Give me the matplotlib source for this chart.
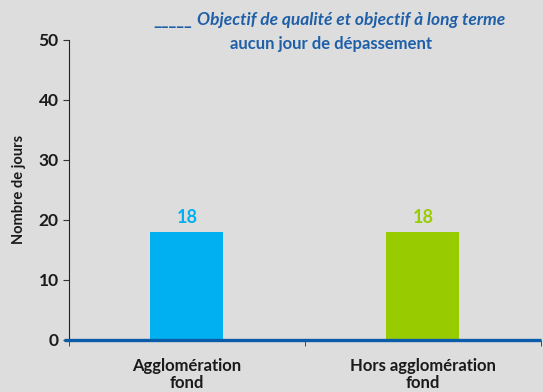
import matplotlib.pyplot as plt

categories = ['Agglomération\nfond', 'Hors agglomération\nfond']
jours = [18, 18]
couleurs = ['#00B0F0', '#99CC00']
objectif = 0

plt.rcParams['font.family'] = ['Lato', 'DejaVu Sans']

fig = plt.figure(figsize=(5.43, 3.92), dpi=100, facecolor='#DDDDDD')
ax = fig.add_axes([0.127, 0.133, 0.869, 0.765])
ax.set_facecolor('#DDDDDD')

x = range(len(categories))
ax.bar(x, jours, width=0.31, color=couleurs, zorder=2)
for xi, v, c in zip(x, jours, couleurs):
    ax.text(xi, v + 1.0, str(v), ha='center', va='bottom',
            fontsize=13, fontweight='bold', color=c)

# objective line (0 days)
ax.plot([-0.52, 1.5], [objectif, objectif], color='#0B5CA8', lw=2.4,
        clip_on=False, zorder=3, solid_capstyle='butt')

ax.set_xlim(-0.5, 1.5)
ax.set_ylim(0, 50)
ax.set_yticks(range(0, 51, 10))
ax.set_xticks(list(x))
ax.set_xticklabels(categories, fontsize=12, fontweight='bold', color='#1A1A1A',
                   linespacing=1.05)
ax.tick_params(axis='x', which='major', length=0, pad=13)
ax.set_xticks([-0.5, 0.5, 1.5], minor=True)
ax.tick_params(axis='x', which='minor', length=4, direction='out', color='#333333')
for lab in ax.get_yticklabels():
    lab.set_fontweight('bold')
ax.tick_params(axis='y', labelsize=12.5, labelcolor='#1A1A1A', length=4, color='#333333')

for s in ['top', 'right', 'bottom']:
    ax.spines[s].set_visible(False)
ax.spines['left'].set_color('#222222')
ax.spines['left'].set_linewidth(0.8)

ax.set_ylabel('Nombre de jours', fontsize=10.5, fontweight='bold', color='#1A1A1A', labelpad=9)

fig.text(0.282, 0.935, '_____', ha='left', va='baseline', fontsize=12,
         fontweight='bold', color='#1F5FA8')
fig.text(0.363, 0.935, 'Objectif de qualité et objectif à long terme',
         ha='left', va='baseline', fontsize=12.5, fontweight='bold',
         fontstyle='italic', color='#1F5FA8')
fig.text(0.610, 0.887, 'aucun jour de dépassement', ha='center', va='center',
         fontsize=12, fontweight='bold', color='#1F5FA8')

fig.savefig('out.png', dpi=100, facecolor=fig.get_facecolor())
